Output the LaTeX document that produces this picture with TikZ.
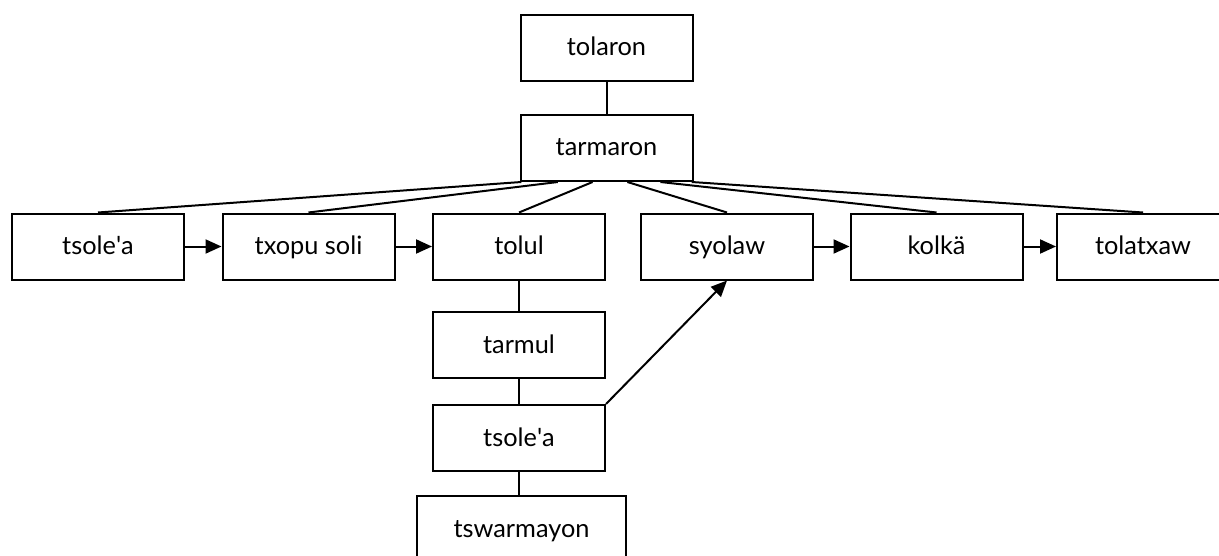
\documentclass[tikz,border=0pt]{standalone}
\usepackage{fontspec}
\setmainfont{Lato}
\usetikzlibrary{arrows.meta,calc}
\newcommand{\ap}{\textquotesingle}
\begin{document}
\begin{tikzpicture}[x=0.75pt,y=-0.75pt,
  box/.style={draw,line width=1.5pt,minimum width=129pt,minimum height=49.5pt,inner sep=0pt,text height=13pt,text depth=1pt,font=\fontsize{19}{22}\selectfont},
  link/.style={line width=1.5pt},
  arr/.style={line width=1.5pt,-{Triangle[length=12pt,width=10.5pt]}}]
\useasboundingbox (0,0) rectangle (1219,556);
\clip (0,0) rectangle (1219,556);
\node[box] (tolaron) at (606.5,48) {tolaron};
\node[box] (tarmaron) at (606.5,148) {tarmaron};
\node[box] (tsolea) at (98,246.5) {tsole\ap a};
\node[box] (txopu) at (308.5,246.5) {txopu soli};
\node[box] (tolul) at (519,246.5) {tolul};
\node[box] (syolaw) at (727,246.5) {syolaw};
\node[box] (kolka) at (936.5,246.5) {kolkä};
\node[box] (tolatxaw) at (1143,246.5) {tolatxaw};
\node[box] (tarmul) at (519,345) {tarmul};
\node[box] (tsoleb) at (519,438) {tsole\ap a};
\node[box,minimum width=157pt] (tswar) at (521.5,529) {tswarmayon};
\draw[link] (tolaron) -- (tarmaron);
\draw[link] ($(tarmaron.south west)!0.01!(tarmaron.south east)$) -- (tsolea.north);
\draw[link] ($(tarmaron.south west)!0.22!(tarmaron.south east)$) -- (txopu.north);
\draw[link] ($(tarmaron.south west)!0.42!(tarmaron.south east)$) -- (tolul.north);
\draw[link] ($(tarmaron.south west)!0.62!(tarmaron.south east)$) -- (syolaw.north);
\draw[link] ($(tarmaron.south west)!0.81!(tarmaron.south east)$) -- (kolka.north);
\draw[link] ($(tarmaron.south west)!0.99!(tarmaron.south east)$) -- (tolatxaw.north);
\draw[arr] (tsolea) -- (txopu);
\draw[arr] (txopu) -- (tolul);
\draw[arr] (syolaw) -- (kolka);
\draw[arr] (kolka) -- (tolatxaw);
\draw[link] (tolul) -- (tarmul);
\draw[link] (tarmul) -- (tsoleb);
\draw[link] (tsoleb.south) -- (tsoleb.south |- tswar.north);
\draw[arr] (tsoleb.north east) -- (syolaw.south);
\end{tikzpicture}
\end{document}
